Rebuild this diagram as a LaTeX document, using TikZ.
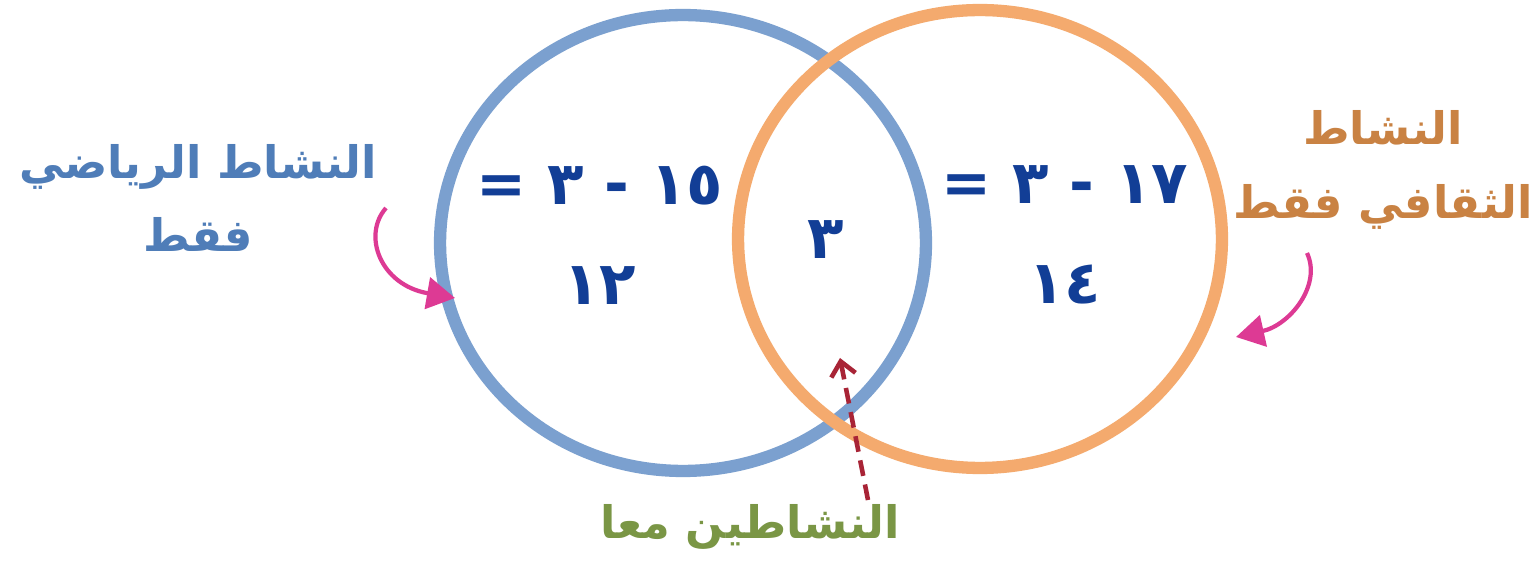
\documentclass[tikz,border=0pt]{standalone}
\usepackage{fontspec}
\newfontfamily\arabicfont[Script=Arabic]{DejaVu Sans}
\TeXXeTstate=1
\usetikzlibrary{arrows.meta}
\definecolor{cblue}{HTML}{7BA0CF}
\definecolor{corange}{HTML}{F4AA6E}
\definecolor{tblue}{HTML}{4F7DB8}
\definecolor{tbrown}{HTML}{C98243}
\definecolor{tnum}{HTML}{123E96}
\definecolor{tgreen}{HTML}{7A9645}
\definecolor{cpink}{HTML}{DD3A94}
\definecolor{cred}{HTML}{A82436}
\tikzset{
  ring/.style={line width=7pt},
  lbl/.style={align=center, inner sep=0pt, font=\arabicfont\bfseries\fontsize{25.5}{42}\selectfont},
  num/.style={align=center, inner sep=0pt, text=tnum, font=\arabicfont\bfseries\fontsize{34}{57}\selectfont},
  pinkarrow/.style={draw=cpink, line width=2.4pt, -{Triangle[length=16pt,width=18pt]}},
  redarrow/.style={draw=cred, line width=2.6pt, dashed, dash pattern=on 9pt off 5pt, -{Straight Barb[length=8pt,width=14pt,line width=2.6pt]}}
}
\begin{document}
\begin{tikzpicture}[x=0.02cm,y=-0.02cm]
\useasboundingbox (0,0) rectangle (1536,567);
\fill[white] (0,0) rectangle (1536,567);
% circles
\draw[ring, cblue] (683,243) ellipse [x radius=4.86cm, y radius=4.56cm];
\draw[ring, corange] (980,239) ellipse [x radius=4.84cm, y radius=4.58cm];
% labels
\node[lbl, text=tblue] (math) at (198,198) {\beginR النشاط الرياضي\endR\\\beginR فقط\endR};
\node[lbl, text=tbrown] (cult) at (1383,170) {\beginR النشاط\endR\\\beginR الثقافي فقط\endR};
\node[lbl, text=tgreen] (both) at (750,527) {\beginR النشاطين معا\endR};
% numbers
\node[num] (left) at (600,235) {\beginR ١٥ - ٣ =\endR\\\beginR ١٢\endR};
\node[num] (mid) at (826,240) {\beginR ٣\endR};
\node[num] (right) at (1065,235) {\beginR ١٧ - ٣ =\endR\\\beginR ١٤\endR};
% arrow targets
\coordinate (ls) at (386,208);
\coordinate (lt) at (455,298);
\coordinate (rs) at (1307,253);
\coordinate (rt) at (1236,337);
\coordinate (bs) at (868,500);
\coordinate (bt) at (840,358);
\draw[pinkarrow] (ls) .. controls (362,235) and (380,285) .. (lt);
\draw[pinkarrow] (rs) .. controls (1322,285) and (1290,325) .. (rt);
\draw[redarrow] (bs) -- (bt);
\end{tikzpicture}
\end{document}
